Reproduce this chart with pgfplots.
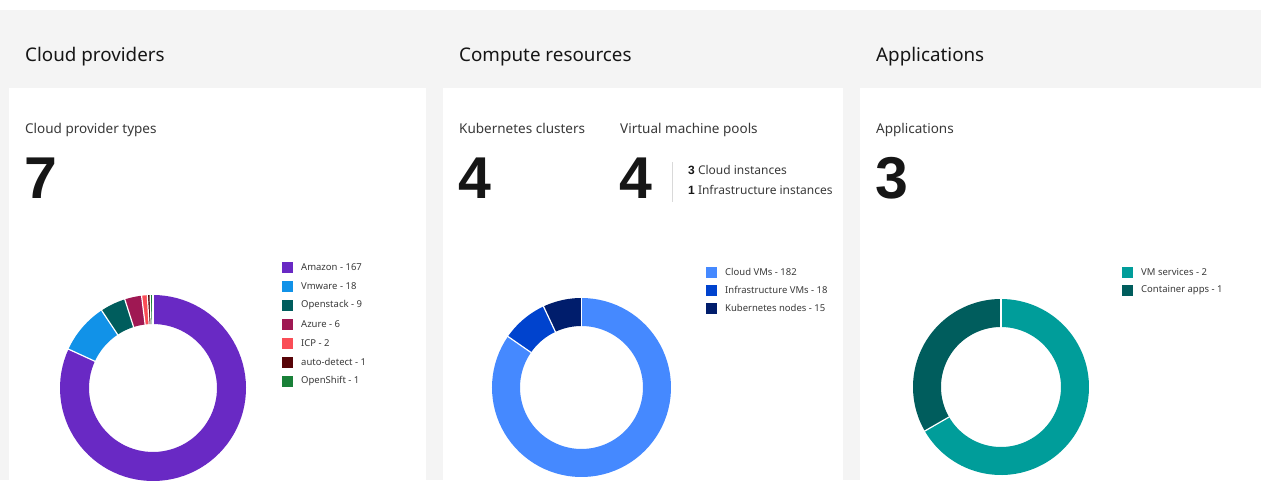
\documentclass[border=0pt]{standalone}
\usepackage{pgfplots}
\pgfplotsset{compat=1.18}
\usepackage{fontspec}
\setmainfont{Noto Sans}
\newfontfamily\boldfam{Liberation Sans}
\definecolor{bgGray}{HTML}{F4F4F4}
\definecolor{txt}{HTML}{161616}
\definecolor{sub}{HTML}{393939}
\definecolor{cAmazon}{HTML}{6929C4}
\definecolor{cVmware}{HTML}{1192E8}
\definecolor{cOpenstack}{HTML}{005D5D}
\definecolor{cAzure}{HTML}{9F1853}
\definecolor{cICP}{HTML}{FA4D56}
\definecolor{cAuto}{HTML}{570408}
\definecolor{cOpenShift}{HTML}{198038}
\definecolor{cCloudVM}{HTML}{4589FF}
\definecolor{cInfraVM}{HTML}{0043CE}
\definecolor{cKube}{HTML}{001D6C}
\definecolor{cVMsvc}{HTML}{009D9A}
\definecolor{cCont}{HTML}{005D5D}
% slice: cx, cy, mid radius, ring width, total, start, end, colour
\newcommand{\slice}[8]{%
  \addplot[draw=#8, line width=#4pt, line cap=butt, no markers, samples=80, domain={#6/#5*360}:{#7/#5*360}]
    ({#1+#3*sin(x)},{#2-#3*cos(x)});}
% separator: cx, cy, r1, r2, total, at
\newcommand{\sep}[6]{%
  \addplot[draw=white, line width=1.2pt, no markers, samples=2, domain=#3:#4]
    ({#1+x*sin(#6/#5*360)},{#2-x*cos(#6/#5*360)});}
\newcommand{\legsq}[4]{% x, y centre, colour, text
  \fill[#3] (axis cs:#1,#2-5.5) rectangle (axis cs:#1+11,#2+5.5);
  \node[anchor=west, font=\fontsize{9.5}{11}\selectfont, text=sub, inner sep=0pt] at (axis cs:#1+19,#2) {#4};}
\begin{document}
\begin{tikzpicture}
\begin{axis}[
  name=ax, at={(0,0)}, anchor=south west,
  x=1pt, y=1pt, scale only axis,
  xmin=0, xmax=1261, ymin=0, ymax=480, y dir=reverse,
  hide axis, clip=true, axis on top=false]
% backgrounds
\fill[white] (axis cs:0,0) rectangle (axis cs:1261,480);
\fill[bgGray] (axis cs:0,10) rectangle (axis cs:1261,480);
\fill[white] (axis cs:9,88) rectangle (axis cs:426,480);
\fill[white] (axis cs:443,88) rectangle (axis cs:843,480);
\fill[white] (axis cs:860,88) rectangle (axis cs:1261,480);
% section titles
\node[anchor=base west, inner sep=0pt, text=txt, font=\fontsize{18.8}{22}\selectfont] at (axis cs:25,61) {Cloud providers};
\node[anchor=base west, inner sep=0pt, text=txt, font=\fontsize{18.8}{22}\selectfont] at (axis cs:459,61) {Compute resources};
\node[anchor=base west, inner sep=0pt, text=txt, font=\fontsize{18.8}{22}\selectfont] at (axis cs:876,61) {Applications};
% card subtitles
\node[anchor=base west, inner sep=0pt, text=sub, font=\fontsize{13.5}{16}\selectfont] at (axis cs:25,133) {Cloud provider types};
\node[anchor=base west, inner sep=0pt, text=sub, font=\fontsize{13.5}{16}\selectfont] at (axis cs:459,133) {Kubernetes clusters};
\node[anchor=base west, inner sep=0pt, text=sub, font=\fontsize{13.5}{16}\selectfont] at (axis cs:620,133) {Virtual machine pools};
\node[anchor=base west, inner sep=0pt, text=sub, font=\fontsize{13.5}{16}\selectfont] at (axis cs:876,133) {Applications};
% big numbers
\node[anchor=base west, inner sep=0pt, text=txt, font=\boldfam\bfseries\fontsize{59}{60}\selectfont] at (axis cs:24,198) {7};
\node[anchor=base west, inner sep=0pt, text=txt, font=\boldfam\bfseries\fontsize{59}{60}\selectfont] at (axis cs:458,198) {4};
\node[anchor=base west, inner sep=0pt, text=txt, font=\boldfam\bfseries\fontsize{59}{60}\selectfont] at (axis cs:619,198) {4};
\node[anchor=base west, inner sep=0pt, text=txt, font=\boldfam\bfseries\fontsize{59}{60}\selectfont] at (axis cs:875,198) {3};
\draw[line width=1pt, draw=black!15] (axis cs:672,162) -- (axis cs:672,202);
\node[anchor=base west, inner sep=0pt, text=sub, font=\fontsize{12}{14}\selectfont] at (axis cs:688,174) {{\boldfam\bfseries\color{txt}3} Cloud instances};
\node[anchor=base west, inner sep=0pt, text=sub, font=\fontsize{12}{14}\selectfont] at (axis cs:688,194) {{\boldfam\bfseries\color{txt}1} Infrastructure instances};
% legends
\legsq{282}{267}{cAmazon}{Amazon - 167}
\legsq{282}{286}{cVmware}{Vmware - 18}
\legsq{282}{305}{cOpenstack}{Openstack - 9}
\legsq{282}{324}{cAzure}{Azure - 6}
\legsq{282}{343}{cICP}{ICP - 2}
\legsq{282}{362}{cAuto}{auto-detect - 1}
\legsq{282}{381}{cOpenShift}{OpenShift - 1}
\legsq{706}{272}{cCloudVM}{Cloud VMs - 182}
\legsq{706}{290}{cInfraVM}{Infrastructure VMs - 18}
\legsq{706}{308}{cKube}{Kubernetes nodes - 15}
\legsq{1122}{272}{cVMsvc}{VM services - 2}
\legsq{1122}{290}{cCont}{Container apps - 1}
% donut 1: total 204
\slice{153}{388}{78.5}{29}{204}{0}{167}{cAmazon}
\slice{153}{388}{78.5}{29}{204}{167}{185}{cVmware}
\slice{153}{388}{78.5}{29}{204}{185}{194}{cOpenstack}
\slice{153}{388}{78.5}{29}{204}{194}{200}{cAzure}
\slice{153}{388}{78.5}{29}{204}{200}{202}{cICP}
\slice{153}{388}{78.5}{29}{204}{202}{203}{cAuto}
\slice{153}{388}{78.5}{29}{204}{203}{204}{cOpenShift}
\sep{153}{388}{63}{94}{204}{0}
\sep{153}{388}{63}{94}{204}{167}
\sep{153}{388}{63}{94}{204}{185}
\sep{153}{388}{63}{94}{204}{194}
\sep{153}{388}{63}{94}{204}{200}
\sep{153}{388}{63}{94}{204}{202}
\sep{153}{388}{63}{94}{204}{203}
% donut 2: total 215
\slice{581.5}{387.5}{75.5}{28}{215}{0}{182}{cCloudVM}
\slice{581.5}{387.5}{75.5}{28}{215}{182}{200}{cInfraVM}
\slice{581.5}{387.5}{75.5}{28}{215}{200}{215}{cKube}
\sep{581.5}{387.5}{61}{91}{215}{0}
\sep{581.5}{387.5}{61}{91}{215}{182}
\sep{581.5}{387.5}{61}{91}{215}{200}
% donut 3: total 3
\slice{1001}{387}{74}{28}{3}{0}{2}{cVMsvc}
\slice{1001}{387}{74}{28}{3}{2}{3}{cCont}
\sep{1001}{387}{59}{89}{3}{0}
\sep{1001}{387}{59}{89}{3}{2}
\end{axis}
\end{tikzpicture}
\end{document}
